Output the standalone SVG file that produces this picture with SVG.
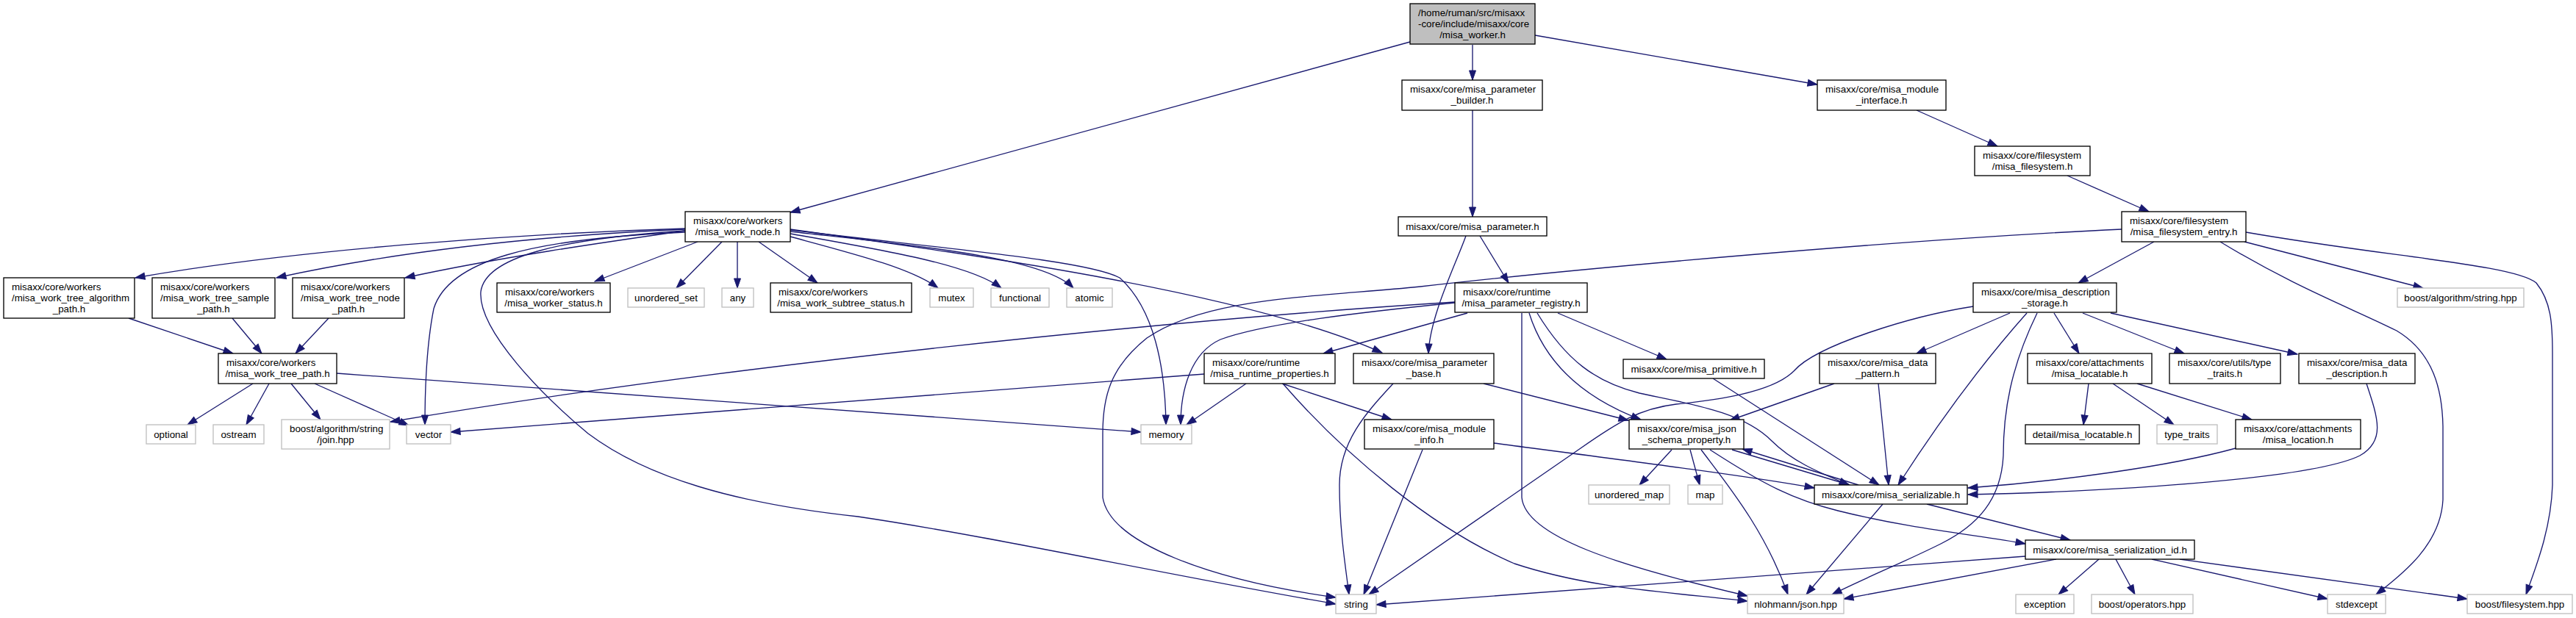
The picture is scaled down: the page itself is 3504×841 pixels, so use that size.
<svg xmlns="http://www.w3.org/2000/svg" width="3504" height="841" viewBox="0 0 3504 841">
<style>
.nd rect{fill:#fff;stroke:#000;stroke-width:1.33}
.ex rect{fill:#fff;stroke:#bfbfbf;stroke-width:1.33}
.rt rect{fill:#bfbfbf;stroke:#000;stroke-width:1.33}
text{font-family:"Liberation Sans",Arial,Helvetica,sans-serif;font-size:13.33px;fill:#000}
.c{text-anchor:middle}
#edges path{fill:none;stroke:#191970;stroke-width:1.33;marker-end:url(#arr)}
</style>
<defs>
<marker id="arr" markerUnits="userSpaceOnUse" markerWidth="14" markerHeight="10" refX="13" refY="5" orient="auto" overflow="visible">
<path d="M0,0.5 L13,5 L0,9.5 z" fill="#191970" stroke="#191970" stroke-width="1"/>
</marker>
</defs>
<rect width="3504" height="841" fill="#fff"/>
<g id="edges">
<path d="M1918,57 L1075,289"/>
<path d="M2003,61 L2003,109"/>
<path d="M2088,48 L2472,115"/>
<path d="M2003,150 L2003,295"/>
<path d="M2607,150 L2717,199"/>
<path d="M2812,239 L2923,288"/>
<path d="M2013,321 L2052,385"/>
<path d="M1994,321 C1980,360 1945,430 1943,481"/>
<path d="M932,311 C700,318 400,340 184,378"/>
<path d="M932,312 C750,320 550,340 376,378"/>
<path d="M932,314 C820,330 680,350 551,378"/>
<path d="M949,329 L809,383"/>
<path d="M982,329 L920,392"/>
<path d="M1003,329 L1003,392"/>
<path d="M1032,329 L1112,385"/>
<path d="M1075,322 C1160,345 1240,365 1276,392"/>
<path d="M1075,318 C1200,340 1320,360 1362,392"/>
<path d="M1075,315 C1250,335 1420,350 1460,392"/>
<path d="M1075,313 C1300,340 1480,355 1523,378 C1570,420 1585,500 1586,578"/>
<path d="M1075,312 C1350,350 1700,400 1880,480"/>
<path d="M932,316 C720,325 610,355 590,420 C580,470 578,530 578,578"/>
<path d="M932,314 C760,325 660,350 654,397 C650,450 740,540 800,590 C880,650 1000,685 1167,703 C1350,730 1600,785 1817,822"/>
<path d="M2886,312 C2600,325 2150,365 1932,390 C1780,405 1640,405 1560,460 C1510,500 1500,540 1500,590 L1500,677 C1510,740 1650,790 1817,813"/>
<path d="M2684,417 C2600,430 2470,470 2440,505 C2410,535 2330,545 2280,550 C2230,556 2200,575 2150,610 L1862,809"/>
<path d="M1979,411 C1600,435 1000,495 531,574"/>
<path d="M1979,412 C1850,425 1720,440 1660,462 C1620,480 1606,530 1606,578"/>
<path d="M1996,426 L1800,481"/>
<path d="M2070,426 L2070,677 C2075,730 2200,770 2377,811"/>
<path d="M2080,426 C2100,490 2150,540 2232,571"/>
<path d="M2091,426 C2130,490 2170,520 2230,535 C2300,550 2370,560 2410,600 C2440,630 2480,645 2515,660"/>
<path d="M2119,426 L2267,489"/>
<path d="M1895,522 C1860,560 1822,600 1822,660 C1822,720 1830,770 1835,809"/>
<path d="M2018,522 L2215,572"/>
<path d="M1638,509 L613,588"/>
<path d="M1695,522 L1614,578"/>
<path d="M1744,522 L1893,571"/>
<path d="M1745,522 C1830,620 1950,720 2060,767 C2160,800 2260,805 2377,818"/>
<path d="M1935,612 L1855,809"/>
<path d="M2032,603 C2200,625 2380,648 2468,664"/>
<path d="M2330,515 L2556,660"/>
<path d="M2495,522 L2353,572"/>
<path d="M2555,522 L2569,660"/>
<path d="M2734,426 L2607,481"/>
<path d="M2757,426 C2700,490 2640,570 2582,660"/>
<path d="M2771,426 C2735,500 2725,560 2725,620 C2722,680 2690,715 2640,740 C2590,765 2540,785 2492,809"/>
<path d="M2794,426 L2828,481"/>
<path d="M2833,426 L2971,481"/>
<path d="M2871,426 L3125,482"/>
<path d="M2930,329 L2827,385"/>
<path d="M3053,329 L3296,392"/>
<path d="M3020,329 C3120,390 3200,420 3260,450 C3310,480 3322,530 3323,580 L3323,680 C3320,740 3270,780 3232,809"/>
<path d="M3055,316 C3250,350 3420,360 3450,385 C3470,410 3472,440 3472,480 L3472,660 C3470,720 3450,770 3436,809"/>
<path d="M2841,522 L2834,578"/>
<path d="M2874,522 L2957,578"/>
<path d="M2907,522 L3063,571"/>
<path d="M3041,610 C2950,635 2800,655 2677,664"/>
<path d="M3219,522 C3235,570 3245,600 3210,620 C3150,650 2900,668 2677,673"/>
<path d="M2274,612 L2230,660"/>
<path d="M2299,612 L2312,660"/>
<path d="M2314,612 C2350,660 2400,720 2432,809"/>
<path d="M2326,612 C2400,660 2440,680 2500,695 C2600,720 2690,728 2755,740"/>
<path d="M2356,612 L2516,660"/>
<path d="M2528,660 L2370,611"/>
<path d="M2561,686 L2457,809"/>
<path d="M2621,686 L2816,735"/>
<path d="M2755,757 L1872,823"/>
<path d="M2797,761 L2508,815"/>
<path d="M2855,761 L2800,809"/>
<path d="M2878,761 L2904,809"/>
<path d="M2927,761 L3166,815"/>
<path d="M2965,761 L3356,815"/>
<path d="M175,433 L317,481"/>
<path d="M316,433 L356,481"/>
<path d="M447,433 L402,481"/>
<path d="M344,522 L255,578"/>
<path d="M366,522 L335,578"/>
<path d="M396,522 L436,571"/>
<path d="M428,522 L556,579"/>
<path d="M458,508 L1552,588"/>
</g>
<g id="root" class="rt"><rect x="1918" y="5" width="170" height="55"/><text x="1929" y="22">/home/ruman/src/misaxx</text><text x="1929" y="37">-core/include/misaxx/core</text><text class="c" x="2003" y="51.5">/misa_worker.h</text></g>
<g id="param_builder" class="nd"><rect x="1907" y="109" width="191" height="41"/><text x="1918" y="126">misaxx/core/misa_parameter</text><text class="c" x="2002.5" y="141">_builder.h</text></g>
<g id="module_interface" class="nd"><rect x="2472" y="109" width="175" height="41"/><text x="2483" y="126">misaxx/core/misa_module</text><text class="c" x="2559.5" y="141">_interface.h</text></g>
<g id="filesystem" class="nd"><rect x="2686" y="199" width="157" height="40"/><text x="2697" y="216">misaxx/core/filesystem</text><text class="c" x="2764.5" y="231">/misa_filesystem.h</text></g>
<g id="work_node" class="nd"><rect x="932" y="288" width="143" height="41"/><text x="943" y="305">misaxx/core/workers</text><text class="c" x="1003.5" y="320">/misa_work_node.h</text></g>
<g id="parameter" class="nd"><rect x="1902" y="295" width="202" height="26"/><text class="c" x="2003" y="312.5">misaxx/core/misa_parameter.h</text></g>
<g id="filesystem_entry" class="nd"><rect x="2886" y="288" width="169" height="41"/><text x="2897" y="305">misaxx/core/filesystem</text><text class="c" x="2970.5" y="320">/misa_filesystem_entry.h</text></g>
<g id="algorithm_path" class="nd"><rect x="5" y="378" width="178" height="55"/><text x="16" y="395">misaxx/core/workers</text><text x="16" y="410">/misa_work_tree_algorithm</text><text class="c" x="94" y="424.5">_path.h</text></g>
<g id="sample_path" class="nd"><rect x="207" y="378" width="167" height="55"/><text x="218" y="395">misaxx/core/workers</text><text x="218" y="410">/misa_work_tree_sample</text><text class="c" x="290.5" y="424.5">_path.h</text></g>
<g id="node_path" class="nd"><rect x="398" y="378" width="152" height="55"/><text x="409" y="395">misaxx/core/workers</text><text x="409" y="410">/misa_work_tree_node</text><text class="c" x="474" y="424.5">_path.h</text></g>
<g id="worker_status" class="nd"><rect x="676" y="385" width="154" height="40"/><text x="687" y="402">misaxx/core/workers</text><text class="c" x="753" y="417">/misa_worker_status.h</text></g>
<g id="unordered_set" class="ex"><rect x="854" y="392" width="104" height="26"/><text class="c" x="906" y="409.5">unordered_set</text></g>
<g id="any" class="ex"><rect x="982" y="392" width="43" height="26"/><text class="c" x="1003.5" y="409.5">any</text></g>
<g id="work_subtree_status" class="nd"><rect x="1048" y="385" width="192" height="40"/><text x="1059" y="402">misaxx/core/workers</text><text class="c" x="1144" y="417">/misa_work_subtree_status.h</text></g>
<g id="mutex" class="ex"><rect x="1265" y="392" width="59" height="26"/><text class="c" x="1294.5" y="409.5">mutex</text></g>
<g id="functional" class="ex"><rect x="1348" y="392" width="79" height="26"/><text class="c" x="1387.5" y="409.5">functional</text></g>
<g id="atomic" class="ex"><rect x="1451" y="392" width="62" height="26"/><text class="c" x="1482" y="409.5">atomic</text></g>
<g id="parameter_registry" class="nd"><rect x="1979" y="385" width="180" height="40"/><text x="1990" y="402">misaxx/core/runtime</text><text class="c" x="2069" y="417">/misa_parameter_registry.h</text></g>
<g id="description_storage" class="nd"><rect x="2684" y="385" width="195" height="40"/><text x="2695" y="402">misaxx/core/misa_description</text><text class="c" x="2781.5" y="417">_storage.h</text></g>
<g id="boost_string" class="ex"><rect x="3261" y="392" width="172" height="26"/><text class="c" x="3347" y="409.5">boost/algorithm/string.hpp</text></g>
<g id="work_tree_path" class="nd"><rect x="297" y="481" width="161" height="41"/><text x="308" y="498">misaxx/core/workers</text><text class="c" x="377.5" y="513">/misa_work_tree_path.h</text></g>
<g id="runtime_properties" class="nd"><rect x="1638" y="481" width="178" height="41"/><text x="1649" y="498">misaxx/core/runtime</text><text class="c" x="1727" y="513">/misa_runtime_properties.h</text></g>
<g id="parameter_base" class="nd"><rect x="1841" y="481" width="191" height="41"/><text x="1852" y="498">misaxx/core/misa_parameter</text><text class="c" x="1936.5" y="513">_base.h</text></g>
<g id="primitive" class="nd"><rect x="2208" y="489" width="192" height="26"/><text class="c" x="2304" y="506.5">misaxx/core/misa_primitive.h</text></g>
<g id="data_pattern" class="nd"><rect x="2475" y="481" width="158" height="41"/><text x="2486" y="498">misaxx/core/misa_data</text><text class="c" x="2554" y="513">_pattern.h</text></g>
<g id="locatable" class="nd"><rect x="2758" y="481" width="169" height="41"/><text x="2769" y="498">misaxx/core/attachments</text><text class="c" x="2842.5" y="513">/misa_locatable.h</text></g>
<g id="type_traits_h" class="nd"><rect x="2951" y="481" width="151" height="41"/><text x="2962" y="498">misaxx/core/utils/type</text><text class="c" x="3026.5" y="513">_traits.h</text></g>
<g id="data_description" class="nd"><rect x="3127" y="481" width="158" height="41"/><text x="3138" y="498">misaxx/core/misa_data</text><text class="c" x="3206" y="513">_description.h</text></g>
<g id="optional" class="ex"><rect x="199" y="578" width="67" height="26"/><text class="c" x="232.5" y="595.5">optional</text></g>
<g id="ostream" class="ex"><rect x="290" y="578" width="69" height="26"/><text class="c" x="324.5" y="595.5">ostream</text></g>
<g id="join" class="ex"><rect x="383" y="571" width="147" height="40"/><text x="394" y="588">boost/algorithm/string</text><text class="c" x="456.5" y="603">/join.hpp</text></g>
<g id="vector" class="ex"><rect x="553" y="578" width="60" height="26"/><text class="c" x="583" y="595.5">vector</text></g>
<g id="memory" class="ex"><rect x="1552" y="578" width="69" height="26"/><text class="c" x="1586.5" y="595.5">memory</text></g>
<g id="module_info" class="nd"><rect x="1856" y="571" width="176" height="40"/><text x="1867" y="588">misaxx/core/misa_module</text><text class="c" x="1944" y="603">_info.h</text></g>
<g id="json_schema_property" class="nd"><rect x="2216" y="571" width="156" height="40"/><text x="2227" y="588">misaxx/core/misa_json</text><text class="c" x="2294" y="603">_schema_property.h</text></g>
<g id="detail_locatable" class="nd"><rect x="2755" y="578" width="155" height="26"/><text class="c" x="2832.5" y="595.5">detail/misa_locatable.h</text></g>
<g id="type_traits" class="ex"><rect x="2934" y="578" width="82" height="26"/><text class="c" x="2975" y="595.5">type_traits</text></g>
<g id="location" class="nd"><rect x="3041" y="571" width="170" height="40"/><text x="3052" y="588">misaxx/core/attachments</text><text class="c" x="3126" y="603">/misa_location.h</text></g>
<g id="unordered_map" class="ex"><rect x="2161" y="660" width="110" height="26"/><text class="c" x="2216" y="677.5">unordered_map</text></g>
<g id="map" class="ex"><rect x="2296" y="660" width="47" height="26"/><text class="c" x="2319.5" y="677.5">map</text></g>
<g id="serializable" class="nd"><rect x="2468" y="660" width="208" height="26"/><text class="c" x="2572" y="677.5">misaxx/core/misa_serializable.h</text></g>
<g id="serialization_id" class="nd"><rect x="2755" y="735" width="230" height="26"/><text class="c" x="2870" y="752.5">misaxx/core/misa_serialization_id.h</text></g>
<g id="string" class="ex"><rect x="1817" y="809" width="55" height="26"/><text class="c" x="1844.5" y="826.5">string</text></g>
<g id="json_hpp" class="ex"><rect x="2377" y="809" width="131" height="26"/><text class="c" x="2442.5" y="826.5">nlohmann/json.hpp</text></g>
<g id="exception" class="ex"><rect x="2742" y="809" width="79" height="26"/><text class="c" x="2781.5" y="826.5">exception</text></g>
<g id="operators" class="ex"><rect x="2845" y="809" width="138" height="26"/><text class="c" x="2914" y="826.5">boost/operators.hpp</text></g>
<g id="stdexcept" class="ex"><rect x="3166" y="809" width="79" height="26"/><text class="c" x="3205.5" y="826.5">stdexcept</text></g>
<g id="filesystem_hpp" class="ex"><rect x="3356" y="809" width="143" height="26"/><text class="c" x="3427.5" y="826.5">boost/filesystem.hpp</text></g>
</svg>
